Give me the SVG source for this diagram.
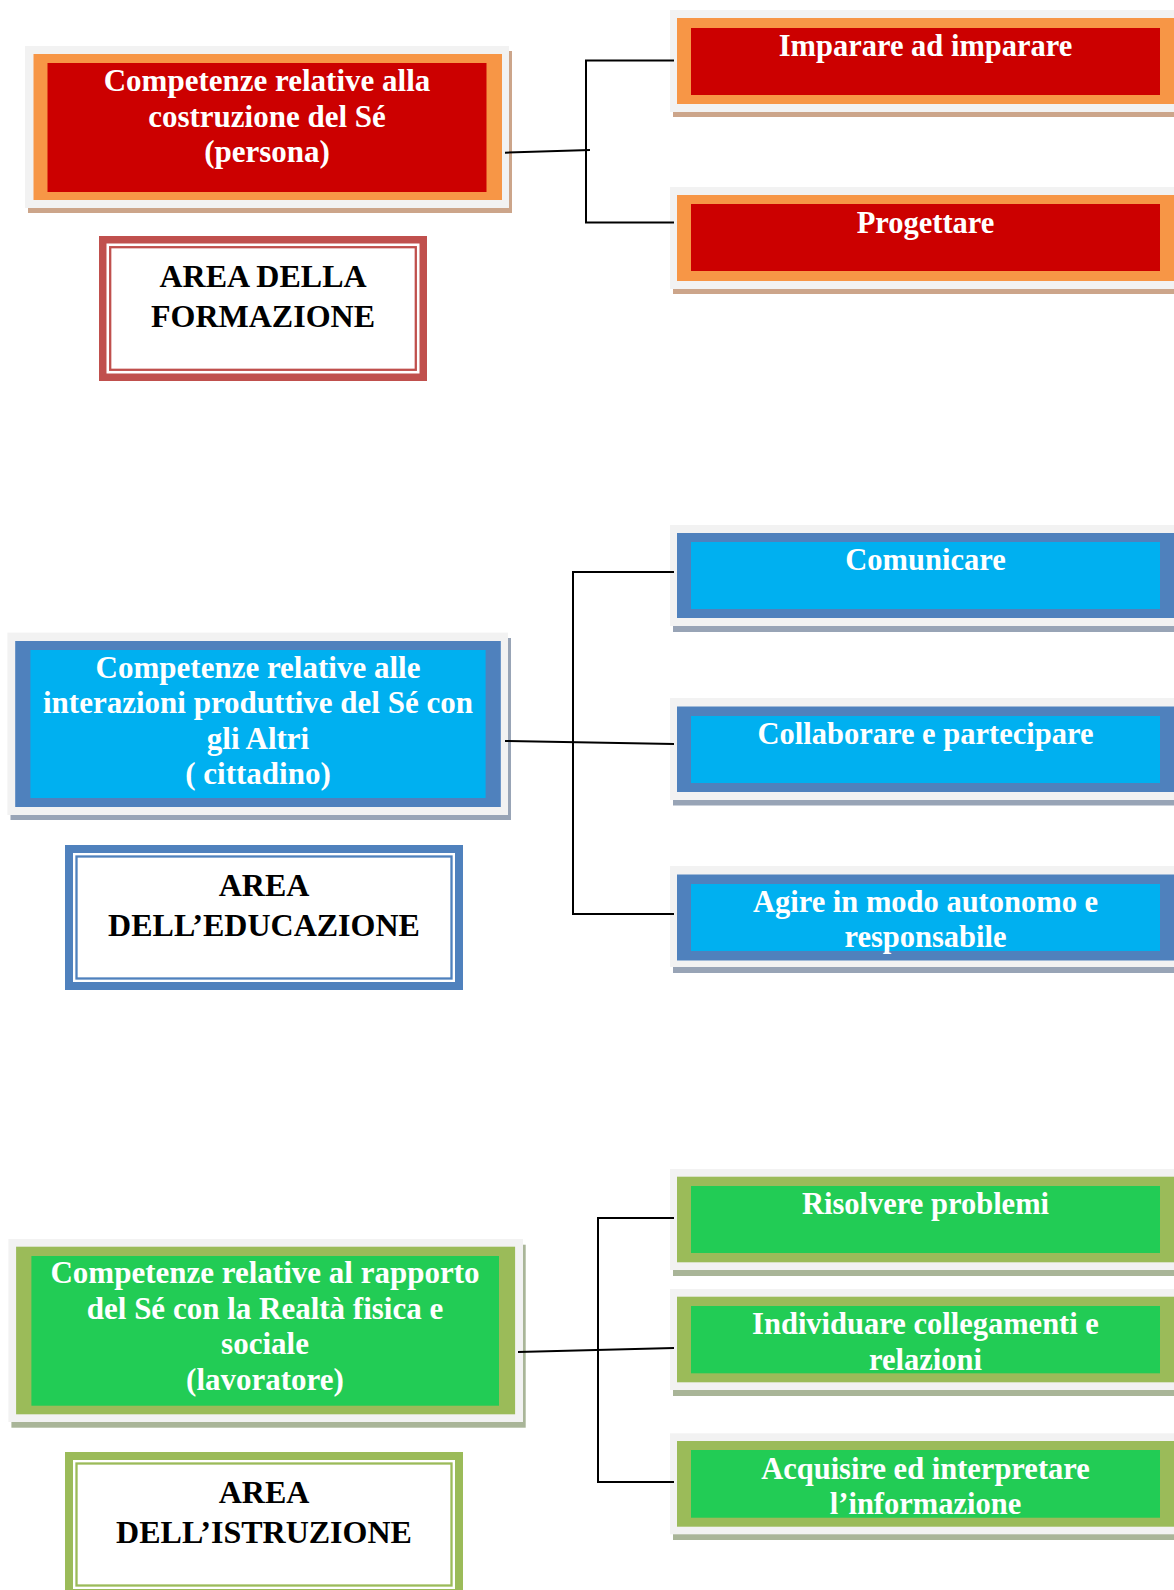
<svg xmlns="http://www.w3.org/2000/svg" width="1174" height="1590" viewBox="0 0 1174 1590">
<style>
.bg{fill:#ffffff}
.fr{fill:#f2f2f2}
.sh-o{fill:#cca58a}
.sh-b{fill:#98a4b6}
.sh-g{fill:#a9b598}
.or{fill:#f79646}
.rd{fill:#cc0000}
.bl{fill:#4f81bd}
.cy{fill:#00b0f0}
.ol{fill:#9bbb59}
.gr{fill:#22cc55}
.wt{fill:#ffffff}
.t{font-family:"Liberation Serif","Times New Roman",serif;font-weight:bold;fill:#ffffff;text-anchor:middle}
.lt{font-size:31px}
.rt{font-size:30.5px}
.at{font-family:"Liberation Serif","Times New Roman",serif;font-weight:bold;fill:#000000;text-anchor:middle;font-size:32px}
.conn{stroke:#000000;stroke-width:2;fill:none}
</style>
<rect class="bg" x="0" y="0" width="1174" height="1590"/>

<!-- GROUP 1: FORMAZIONE -->
<g id="main-formazione">
<rect class="sh-o" x="28" y="51" width="484" height="162"/>
<rect class="fr" x="25" y="46" width="484" height="162"/>
<rect class="or" x="33.5" y="54" width="468.5" height="146"/>
<rect class="rd" x="47.5" y="63" width="439" height="129"/>
<text class="t lt" x="267" y="91">Competenze relative alla</text>
<text class="t lt" x="267" y="126.5">costruzione del Sé</text>
<text class="t lt" x="267" y="162">(persona)</text>
</g>
<g id="area-formazione">
<rect x="99" y="236" width="328" height="145" fill="#c0504d"/>
<rect class="wt" x="106.5" y="243.5" width="313" height="130"/>
<rect x="110.2" y="247.2" width="305.6" height="122.6" fill="none" stroke="#c0504d" stroke-width="2.3"/>
<text class="at" x="263" y="287">AREA DELLA</text>
<text class="at" x="263" y="327">FORMAZIONE</text>
</g>
<g id="imparare">
<rect class="sh-o" x="673" y="15" width="501" height="102"/>
<rect class="fr" x="670" y="10" width="504" height="102"/>
<rect class="or" x="677" y="18" width="497" height="86"/>
<rect class="rd" x="691" y="28" width="469" height="67"/>
<text class="t rt" x="925.5" y="56">Imparare ad imparare</text>
</g>
<g id="progettare">
<rect class="sh-o" x="673" y="192" width="501" height="102"/>
<rect class="fr" x="670" y="187" width="504" height="102"/>
<rect class="or" x="677" y="195" width="497" height="86"/>
<rect class="rd" x="691" y="204" width="469" height="67"/>
<text class="t rt" x="925.5" y="233">Progettare</text>
</g>

<!-- GROUP 2: EDUCAZIONE -->
<g id="main-educazione">
<rect class="sh-b" x="10.5" y="638" width="500.5" height="182"/>
<rect class="fr" x="7.4" y="632.6" width="500.6" height="182.4"/>
<rect class="bl" x="15.2" y="641" width="485.6" height="166"/>
<rect class="cy" x="30.4" y="650" width="455.2" height="148"/>
<text class="t lt" x="258" y="677.5">Competenze relative alle</text>
<text class="t lt" x="258" y="713">interazioni produttive del Sé con</text>
<text class="t lt" x="258" y="748.5">gli Altri</text>
<text class="t lt" x="258" y="784">( cittadino)</text>
</g>
<g id="area-educazione">
<rect x="65" y="845" width="398" height="145" class="bl"/>
<rect class="wt" x="73" y="853" width="382" height="129"/>
<rect x="76.5" y="856.5" width="375" height="122" fill="none" stroke="#4f81bd" stroke-width="2.3"/>
<text class="at" x="264" y="896">AREA</text>
<text class="at" x="264" y="936">DELL’EDUCAZIONE</text>
</g>
<g id="comunicare">
<rect class="sh-b" x="673" y="530" width="501" height="102"/>
<rect class="fr" x="670" y="525" width="504" height="101"/>
<rect class="bl" x="677" y="533" width="497" height="85"/>
<rect class="cy" x="691" y="542" width="469" height="67"/>
<text class="t rt" x="925.5" y="570">Comunicare</text>
</g>
<g id="collaborare">
<rect class="sh-b" x="673" y="703.5" width="501" height="102"/>
<rect class="fr" x="670" y="698" width="504" height="102"/>
<rect class="bl" x="677" y="706.5" width="497" height="85.5"/>
<rect class="cy" x="691" y="716" width="469" height="67"/>
<text class="t rt" x="925.5" y="743.5">Collaborare e partecipare</text>
</g>
<g id="agire">
<rect class="sh-b" x="673" y="871" width="501" height="102"/>
<rect class="fr" x="670" y="866" width="504" height="101"/>
<rect class="bl" x="677" y="874.5" width="497" height="86"/>
<rect class="cy" x="691" y="884" width="469" height="67"/>
<text class="t rt" x="925.5" y="911.5">Agire in modo autonomo e</text>
<text class="t rt" x="925.5" y="946.5">responsabile</text>
</g>

<!-- GROUP 3: ISTRUZIONE -->
<g id="main-istruzione">
<rect class="sh-g" x="11.4" y="1244.7" width="514.3" height="183"/>
<rect class="fr" x="8.4" y="1239" width="514.6" height="183"/>
<rect class="ol" x="16.1" y="1246.7" width="499" height="167.6"/>
<rect class="gr" x="31.4" y="1256" width="467.6" height="149.7"/>
<text class="t lt" x="265" y="1283">Competenze relative al rapporto</text>
<text class="t lt" x="265" y="1318.5">del Sé con la Realtà fisica e</text>
<text class="t lt" x="265" y="1354">sociale</text>
<text class="t lt" x="265" y="1389.5">(lavoratore)</text>
</g>
<g id="area-istruzione">
<rect x="65" y="1452" width="398" height="145" class="ol"/>
<rect class="wt" x="73" y="1460" width="382" height="129"/>
<rect x="76.5" y="1463.5" width="375" height="122" fill="none" stroke="#9bbb59" stroke-width="2.3"/>
<text class="at" x="264" y="1503.3">AREA</text>
<text class="at" x="264" y="1543.3">DELL’ISTRUZIONE</text>
</g>
<g id="risolvere">
<rect class="sh-g" x="673" y="1174" width="501" height="102"/>
<rect class="fr" x="670" y="1169" width="504" height="101"/>
<rect class="ol" x="677" y="1176.7" width="497" height="85.6"/>
<rect class="gr" x="691" y="1186" width="469" height="67"/>
<text class="t rt" x="925.5" y="1214">Risolvere problemi</text>
</g>
<g id="individuare">
<rect class="sh-g" x="673" y="1294" width="501" height="102"/>
<rect class="fr" x="670" y="1289" width="504" height="101"/>
<rect class="ol" x="677" y="1296.7" width="497" height="85.6"/>
<rect class="gr" x="691" y="1306" width="469" height="67.3"/>
<text class="t rt" x="925.5" y="1334">Individuare collegamenti e</text>
<text class="t rt" x="925.5" y="1369.5">relazioni</text>
</g>
<g id="acquisire">
<rect class="sh-g" x="673" y="1438" width="501" height="102"/>
<rect class="fr" x="670" y="1433.3" width="504" height="101"/>
<rect class="ol" x="677" y="1441" width="497" height="85.7"/>
<rect class="gr" x="691" y="1450" width="469" height="67.7"/>
<text class="t rt" x="925.5" y="1478.5">Acquisire ed interpretare</text>
<text class="t rt" x="925.5" y="1513.5">l’informazione</text>
</g>

<g id="connectors">
<path class="conn" d="M505,152.7 L590,150"/>
<path class="conn" d="M674,60.5 H586 V222.5 H674"/>
<path class="conn" d="M505,741 L674,744"/>
<path class="conn" d="M674,572 H573 V914 H674"/>
<path class="conn" d="M518,1352 L674,1348"/>
<path class="conn" d="M674,1218 H598 V1482 H674"/>
</g>
</svg>
